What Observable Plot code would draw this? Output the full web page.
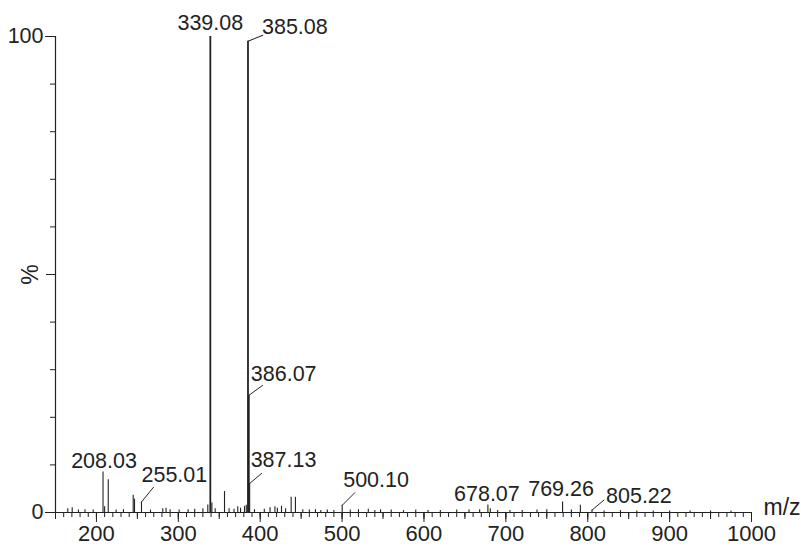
<!DOCTYPE html>
<html>
<head>
<meta charset="utf-8">
<script src="https://cdn.jsdelivr.net/npm/d3@7"></script>
<script src="https://cdn.jsdelivr.net/npm/@observablehq/plot@0.6"></script>
<style>
  html, body { margin: 0; padding: 0; background: #fff; }
  #chart svg { display: block; }
</style>
</head>
<body>
<div id="chart"></div>
<script>
// ---- Data ----
const peakMz  = [165, 170.4, 178, 186, 196, 208.03, 210, 214.4, 224, 233, 244.9, 246.5, 255.01, 266, 281, 285, 290, 301, 312, 320, 330, 336, 339.08, 341, 345, 356.4, 362, 368, 372.6, 376, 380.8, 383, 385.08, 386.07, 387.13, 393, 405, 412, 418, 421, 426, 431, 437.8, 443, 452, 460, 467.5, 474, 482, 490, 500.10, 510, 520, 532, 540, 547, 560, 575, 590, 605, 620, 640, 655, 668, 678.07, 681, 690, 705, 720, 738, 750, 769.26, 780, 791, 805.22, 820, 840, 860, 880, 900, 925, 950, 975];
const peakInt = [0.8, 1.0, 0.5, 0.6, 0.5, 8.5, 1.2, 6.9, 0.5, 0.6, 3.6, 2.8, 2.2, 0.5, 0.8, 0.9, 0.6, 0.5, 0.6, 0.7, 0.8, 1.6, 100, 2.0, 0.8, 4.4, 0.8, 0.7, 1.2, 0.9, 1.3, 1.5, 99, 24.6, 6.1, 0.6, 0.7, 1.0, 1.2, 0.9, 1.3, 0.8, 3.2, 3.2, 0.6, 0.5, 0.6, 0.4, 0.5, 0.4, 1.5, 0.5, 0.6, 0.7, 0.4, 0.6, 0.5, 0.4, 0.5, 0.4, 0.4, 0.5, 0.5, 0.6, 1.6, 0.8, 0.4, 0.4, 0.4, 0.5, 0.6, 2.2, 0.5, 1.5, 0.5, 0.3, 0.4, 0.3, 0.3, 0.3, 0.3, 0.3, 0.3];

const labelMz  = [339.08, 385.08, 386.07, 387.13, 208.03, 255.01, 500.10, 678.07, 769.26, 805.22];
const labelInt = [100, 99, 24.6, 6.1, 8.5, 2.2, 1.5, 1.6, 2.2, 0.5];

const xTickLabels = [200, 300, 400, 500, 600, 700, 800, 900, 1000];
const yTickLabels = [0, 100];
const xAxisTitle = "m/z";
const yAxisTitle = "%";

// ---- Build tables ----
const peaks = peakMz.map((mz, i) => ({mz, int: peakInt[i]}));
const labels = labelMz.map((mz, i) => ({mz, int: labelInt[i], text: mz.toFixed(2)}));

// ---- Label layout (pixel offsets, separate from data) ----
const layout = {
  "339.08": {anchor: "middle", dx: 0,    dy: -13},
  "385.08": {anchor: "start",  dx: 14,   dy: -14,   lead: [16, 68]},
  "386.07": {anchor: "start",  dx: 2,    dy: -21.5, lead: [17, 54]},
  "387.13": {anchor: "start",  dx: 1,    dy: -23,   lead: [15.6, 50]},
  "208.03": {anchor: "middle", dx: 1,    dy: -11},
  "255.01": {anchor: "start",  dx: 0,    dy: -27,   lead: [19, 39]},
  "500.10": {anchor: "start",  dx: 1,    dy: -25,   lead: [18, 45]},
  "678.07": {anchor: "middle", dx: -1,   dy: -11},
  "769.26": {anchor: "middle", dx: -1.5, dy: -13},
  "805.22": {anchor: "start",  dx: 14,   dy: -14,   lead: [15.6, 50]}
};

const ink = "#222";
const lineShape = {draw(context, l) { context.moveTo(0, 0); context.lineTo(0, -l); }};

const labelMarks = labels.map(d => {
  const o = layout[d.text];
  return Plot.text([d], {
    x: "mz", y: "int", text: "text",
    textAnchor: o.anchor, lineAnchor: "middle",
    dx: o.dx, dy: o.dy, fontSize: 21.5, fill: ink
  });
});
const leaderMarks = labels.filter(d => layout[d.text].lead).map(d => {
  const o = layout[d.text];
  return Plot.vector([d], {
    x: "mz", y: "int", length: () => o.lead[0], rotate: o.lead[1],
    anchor: "start", shape: lineShape, stroke: ink, strokeWidth: 0.9
  });
});

const chart = Plot.plot({
  width: 801,
  height: 548,
  marginLeft: 55,
  marginRight: 50,
  marginTop: 36,
  marginBottom: 36,
  style: {fontFamily: "'Liberation Sans', Arial, sans-serif", fontSize: "21px", color: ink, background: "#fff"},
  x: {domain: [150, 1000]},
  y: {domain: [0, 100]},
  length: {type: "identity"},
  marks: [
    // y axis ticks
    Plot.axisY({ticks: d3.range(0, 101, 10), tickSize: 5, text: null, label: null, stroke: ink}),
    Plot.axisY({ticks: [0, 50, 100], tickSize: 9, text: null, label: null, stroke: ink}),
    Plot.axisY({ticks: yTickLabels, tickSize: 10, tickPadding: 2, label: null, fontSize: 21.5, fill: ink, stroke: ink, tickFormat: d => String(d)}),
    // x axis ticks
    Plot.axisX({ticks: d3.range(150, 1001, 10), tickSize: 5, text: null, label: null, stroke: ink}),
    Plot.axisX({ticks: d3.range(150, 1001, 50), tickSize: 7, text: null, label: null, stroke: ink}),
    Plot.axisX({ticks: xTickLabels, tickSize: 10, text: null, label: null, stroke: ink}),
    Plot.axisX({ticks: xTickLabels, tickSize: 0, tickPadding: 13, label: null, fontSize: 22, fill: ink, tickFormat: d => String(d)}),
    // axis lines
    Plot.ruleY([0], {stroke: ink, strokeWidth: 1.2}),
    Plot.ruleX([150], {stroke: ink, strokeWidth: 1.2}),
    // spectrum
    Plot.ruleX(peaks, {x: "mz", y1: 0, y2: "int", stroke: ink, strokeWidth: d => d.int > 20 ? 1.8 : 1.1}),
    // leaders and labels
    ...leaderMarks,
    ...labelMarks,
    // axis titles
    Plot.text([xAxisTitle], {x: 1000, y: 0, text: d => d, dx: 12, dy: -5, textAnchor: "start", lineAnchor: "middle", fontSize: 23, fill: ink}),
    Plot.text([yAxisTitle], {x: 150, y: 50, text: d => d, dx: -25, rotate: -90, textAnchor: "middle", lineAnchor: "middle", fontSize: 23, fill: ink})
  ]
});
document.getElementById("chart").appendChild(chart);
</script>
</body>
</html>
